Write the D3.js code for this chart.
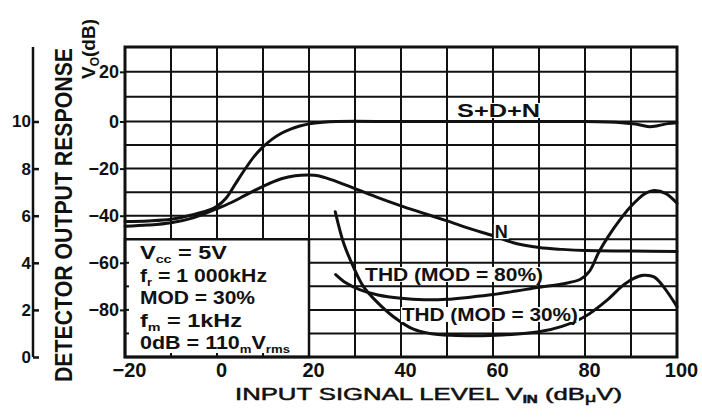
<!DOCTYPE html>
<html><head><meta charset="utf-8">
<script src="https://cdn.jsdelivr.net/npm/d3@7"></script>
<style>
html,body{margin:0;padding:0;background:#fff;}
svg{display:block;font-family:"Liberation Sans",Arial,Helvetica,sans-serif;}
</style></head><body>
<svg id="chart" width="702" height="418"></svg>
<script>
// Input signal level (dBμV) for each curve, with its response
const sdnLevel = [-20,-15,-10,-5,-2,0,2,4,6,8,10,12,14,16,18,20,23,26,40,60,80,85,88,91,94,96,98,100];
const sdnDb    = [-42.5,-42.2,-41.5,-39.5,-37.8,-36,-32.5,-26.5,-20.5,-15,-10.8,-7.5,-5,-3.2,-1.9,-1,-0.3,0,0,0,0,-0.2,-0.5,-1.1,-2.2,-1.7,-0.9,-0.5];

const noiseLevel = [-20,-15,-10,-5,0,3,6,10,14,17,20,22,25,30,35,40,45,50,55,60,65,70,75,80,90,100];
const noiseDb    = [-44.5,-44,-43,-40.8,-37,-34.5,-31.5,-27.5,-24.3,-23,-22.7,-23,-24.8,-28.5,-32.3,-35.8,-39,-42.2,-45.5,-48.5,-51.8,-53.5,-54.3,-54.8,-55,-55.2];

const thd80Level = [25.8,28,31,35,40,45,50,55,60,65,70,75,79,81,83,85,87.5,90,93,95,97.5,100];
const thd80Pct   = [3.5,3.15,2.86,2.63,2.49,2.43,2.45,2.54,2.65,2.8,2.96,3.1,3.3,3.65,4.45,5.1,5.8,6.4,6.93,7.07,6.95,6.53];

const thd30Level = [25.7,27.5,29.6,31.8,34.7,38.3,42.7,46.3,51,56,62,70,75,80,85,88,90.5,92.7,95,97,100];
const thd30Pct   = [6.17,4.85,3.85,3.0,2.35,1.72,1.18,1.0,0.92,0.9,0.93,1.07,1.3,1.72,2.45,3.0,3.33,3.47,3.4,3.0,2.14];

// Axis ticks
const levelTicks = [-20,0,20,40,60,80,100];
const dbTicks = [20,0,-20,-40,-60,-80];
const responseTicks = [0,2,4,6,8,10];

// Test conditions: [text, isSubscript]
const conditions = [
  [["V",0],["cc",1],[" = 5V",0]],
  [["f",0],["r",1],[" = 1 000kHz",0]],
  [["MOD = 30%",0]],
  [["f",0],["m",1],[" = 1kHz",0]],
  [["0dB = 110",0],["m",1],["V",0],["rms",1]]
];

const svg = d3.select("#chart");
const x = d3.scaleLinear().domain([-20,100]).range([125,677]);
const yDb = d3.scaleLinear().domain([30,0,-100]).range([47,121.5,357]);
const yThd = d3.scaleLinear().domain([0,10]).range([357,121.5]);
const minus = d => d < 0 ? "\u2212" + (-d) : String(d);

// grid
const grid = svg.append("g").attr("stroke","#111").attr("stroke-width",2);
grid.selectAll(".v").data(d3.range(-10,100,10)).join("line")
  .attr("x1",d=>x(d)).attr("x2",d=>x(d)).attr("y1",yDb(30)).attr("y2",yDb(-100));
grid.selectAll(".h").data(d3.range(20,-100,-10)).join("line")
  .attr("x1",x(-20)).attr("x2",x(100)).attr("y1",d=>yDb(d)).attr("y2",d=>yDb(d));

// conditions box
svg.append("rect").attr("x",x(-20)).attr("y",yDb(-50))
  .attr("width",x(20)-x(-20)).attr("height",yDb(-100)-yDb(-50))
  .attr("fill","#fff").attr("stroke","#111").attr("stroke-width",2.5);
const boxTicks = svg.append("g").attr("stroke","#111").attr("stroke-width",2);
boxTicks.selectAll(".l").data([-60,-70,-80,-90]).join("line")
  .attr("x1",x(-20)).attr("x2",x(-20)+4).attr("y1",d=>yDb(d)).attr("y2",d=>yDb(d));
boxTicks.selectAll(".b").data([-10,0,10]).join("line")
  .attr("x1",d=>x(d)).attr("x2",d=>x(d)).attr("y1",yDb(-100)).attr("y2",yDb(-100)-4);

const condText = svg.append("g").attr("font-size",18).attr("font-weight","bold").attr("fill","#111");
const condLen = [87,127,115,102,150];
conditions.forEach((segs,i)=>{
  const t = condText.append("text").attr("x",140).attr("y",259+i*22.5)
    .attr("textLength",condLen[i]).attr("lengthAdjust","spacingAndGlyphs");
  let sub = false;
  segs.forEach(([s,isSub])=>{
    const ts = t.append("tspan").text(s);
    if (isSub && !sub) ts.attr("dy",4).attr("font-size",11);
    else if (isSub) ts.attr("font-size",11);
    else if (!isSub && sub) ts.attr("dy",-4);
    sub = !!isSub;
  });
});

// frame
svg.append("rect").attr("x",x(-20)).attr("y",yDb(30))
  .attr("width",x(100)-x(-20)).attr("height",yDb(-100)-yDb(30))
  .attr("fill","none").attr("stroke","#111").attr("stroke-width",3);

// curves
const line = d3.line().curve(d3.curveCatmullRom.alpha(0.5));
const curves = svg.append("g").attr("fill","none").attr("stroke","#111")
  .attr("stroke-width",3).attr("stroke-linejoin","round").attr("stroke-linecap","round");
curves.append("path").attr("d",line(sdnLevel.map((v,i)=>[x(v),yDb(sdnDb[i])])));
curves.append("path").attr("d",line(noiseLevel.map((v,i)=>[x(v),yDb(noiseDb[i])])));
curves.append("path").attr("d",line(thd80Level.map((v,i)=>[x(v),yThd(thd80Pct[i])])));
curves.append("path").attr("d",line(thd30Level.map((v,i)=>[x(v),yThd(thd30Pct[i])])));

// curve labels with paper-white backing
function label(txt, px, py, len){
  const g = svg.append("g");
  const bg = g.append("rect").attr("fill","#fff");
  const t = g.append("text").attr("x",px).attr("y",py).attr("font-size",18)
    .attr("font-weight","bold").attr("fill","#111").text(txt);
  if (len) t.attr("textLength",len).attr("lengthAdjust","spacingAndGlyphs");
  const b = t.node().getBBox();
  bg.attr("x",b.x-1).attr("y",b.y+2).attr("width",b.width+2).attr("height",b.height-5);
}
label("S+D+N", x(52.2), yDb(1.8), 83);
label("N", x(60.4), yDb(-49.5));
label("THD (MOD = 80%)", x(32.2), yThd(3.23), 178);
label("THD (MOD = 30%)", x(40.2), yThd(1.53), 176);

// dB axis
const dbAxis = svg.append("g").attr("transform",`translate(${x(-20)},0)`)
  .call(d3.axisLeft(yDb).tickValues(dbTicks).tickSize(5).tickPadding(1).tickFormat(minus));
dbAxis.select(".domain").remove();
dbAxis.selectAll("line").attr("stroke","#111").attr("stroke-width",2);
dbAxis.selectAll("text").attr("font-size",18).attr("font-weight","bold").attr("fill","#111")
  .attr("font-family","Liberation Sans, Arial, sans-serif");

// level axis
const lvAxis = svg.append("g").attr("transform",`translate(0,${yDb(-100)})`)
  .call(d3.axisBottom(x).tickValues(levelTicks).tickSize(0).tickPadding(6).tickFormat(minus));
lvAxis.select(".domain").remove();
lvAxis.selectAll("text").attr("font-size",20).attr("font-weight","bold").attr("fill","#111")
  .attr("dx",4).attr("font-family","Liberation Sans, Arial, sans-serif");

// detector output response axis
const rx = 33;
svg.append("line").attr("x1",rx).attr("x2",rx).attr("y1",yDb(30)).attr("y2",yThd(0))
  .attr("stroke","#111").attr("stroke-width",2.5);
const rAxis = svg.append("g").attr("transform",`translate(${rx},0)`)
  .call(d3.axisLeft(yThd).tickValues(responseTicks).tickSize(-6).tickPadding(2));
rAxis.select(".domain").remove();
rAxis.selectAll("line").attr("stroke","#111").attr("stroke-width",2.5);
rAxis.selectAll("text").attr("font-size",17).attr("font-weight","bold").attr("fill","#111")
  .attr("font-family","Liberation Sans, Arial, sans-serif");

// axis titles
svg.append("text").attr("transform","translate(72,215) rotate(-90)")
  .attr("text-anchor","middle").attr("font-size",24).attr("font-weight","bold").attr("fill","#111")
  .attr("textLength",334).attr("lengthAdjust","spacingAndGlyphs")
  .text("DETECTOR OUTPUT RESPONSE");

const vo = svg.append("text").attr("transform","translate(95,79) rotate(-90)")
  .attr("font-size",19).attr("font-weight","bold").attr("fill","#111");
vo.append("tspan").text("V");
vo.append("tspan").attr("font-size",12).attr("dy",4).text("O");
vo.append("tspan").attr("dy",-4).text("(dB)");

const xt = svg.append("text").attr("x",235).attr("y",400).attr("font-size",17)
  .attr("fill","#111").attr("stroke","#111").attr("stroke-width",0.5)
  .attr("textLength",387).attr("lengthAdjust","spacingAndGlyphs");
xt.append("tspan").text("INPUT SIGNAL LEVEL V");
xt.append("tspan").attr("font-size",10).attr("dy",3).attr("font-weight","bold").text("IN");
xt.append("tspan").attr("dy",-3).text(" (dB");
xt.append("tspan").attr("font-size",13).attr("dy",2).text("\u03bc");
xt.append("tspan").attr("dy",-2).text("V)");
</script>
</body></html>
